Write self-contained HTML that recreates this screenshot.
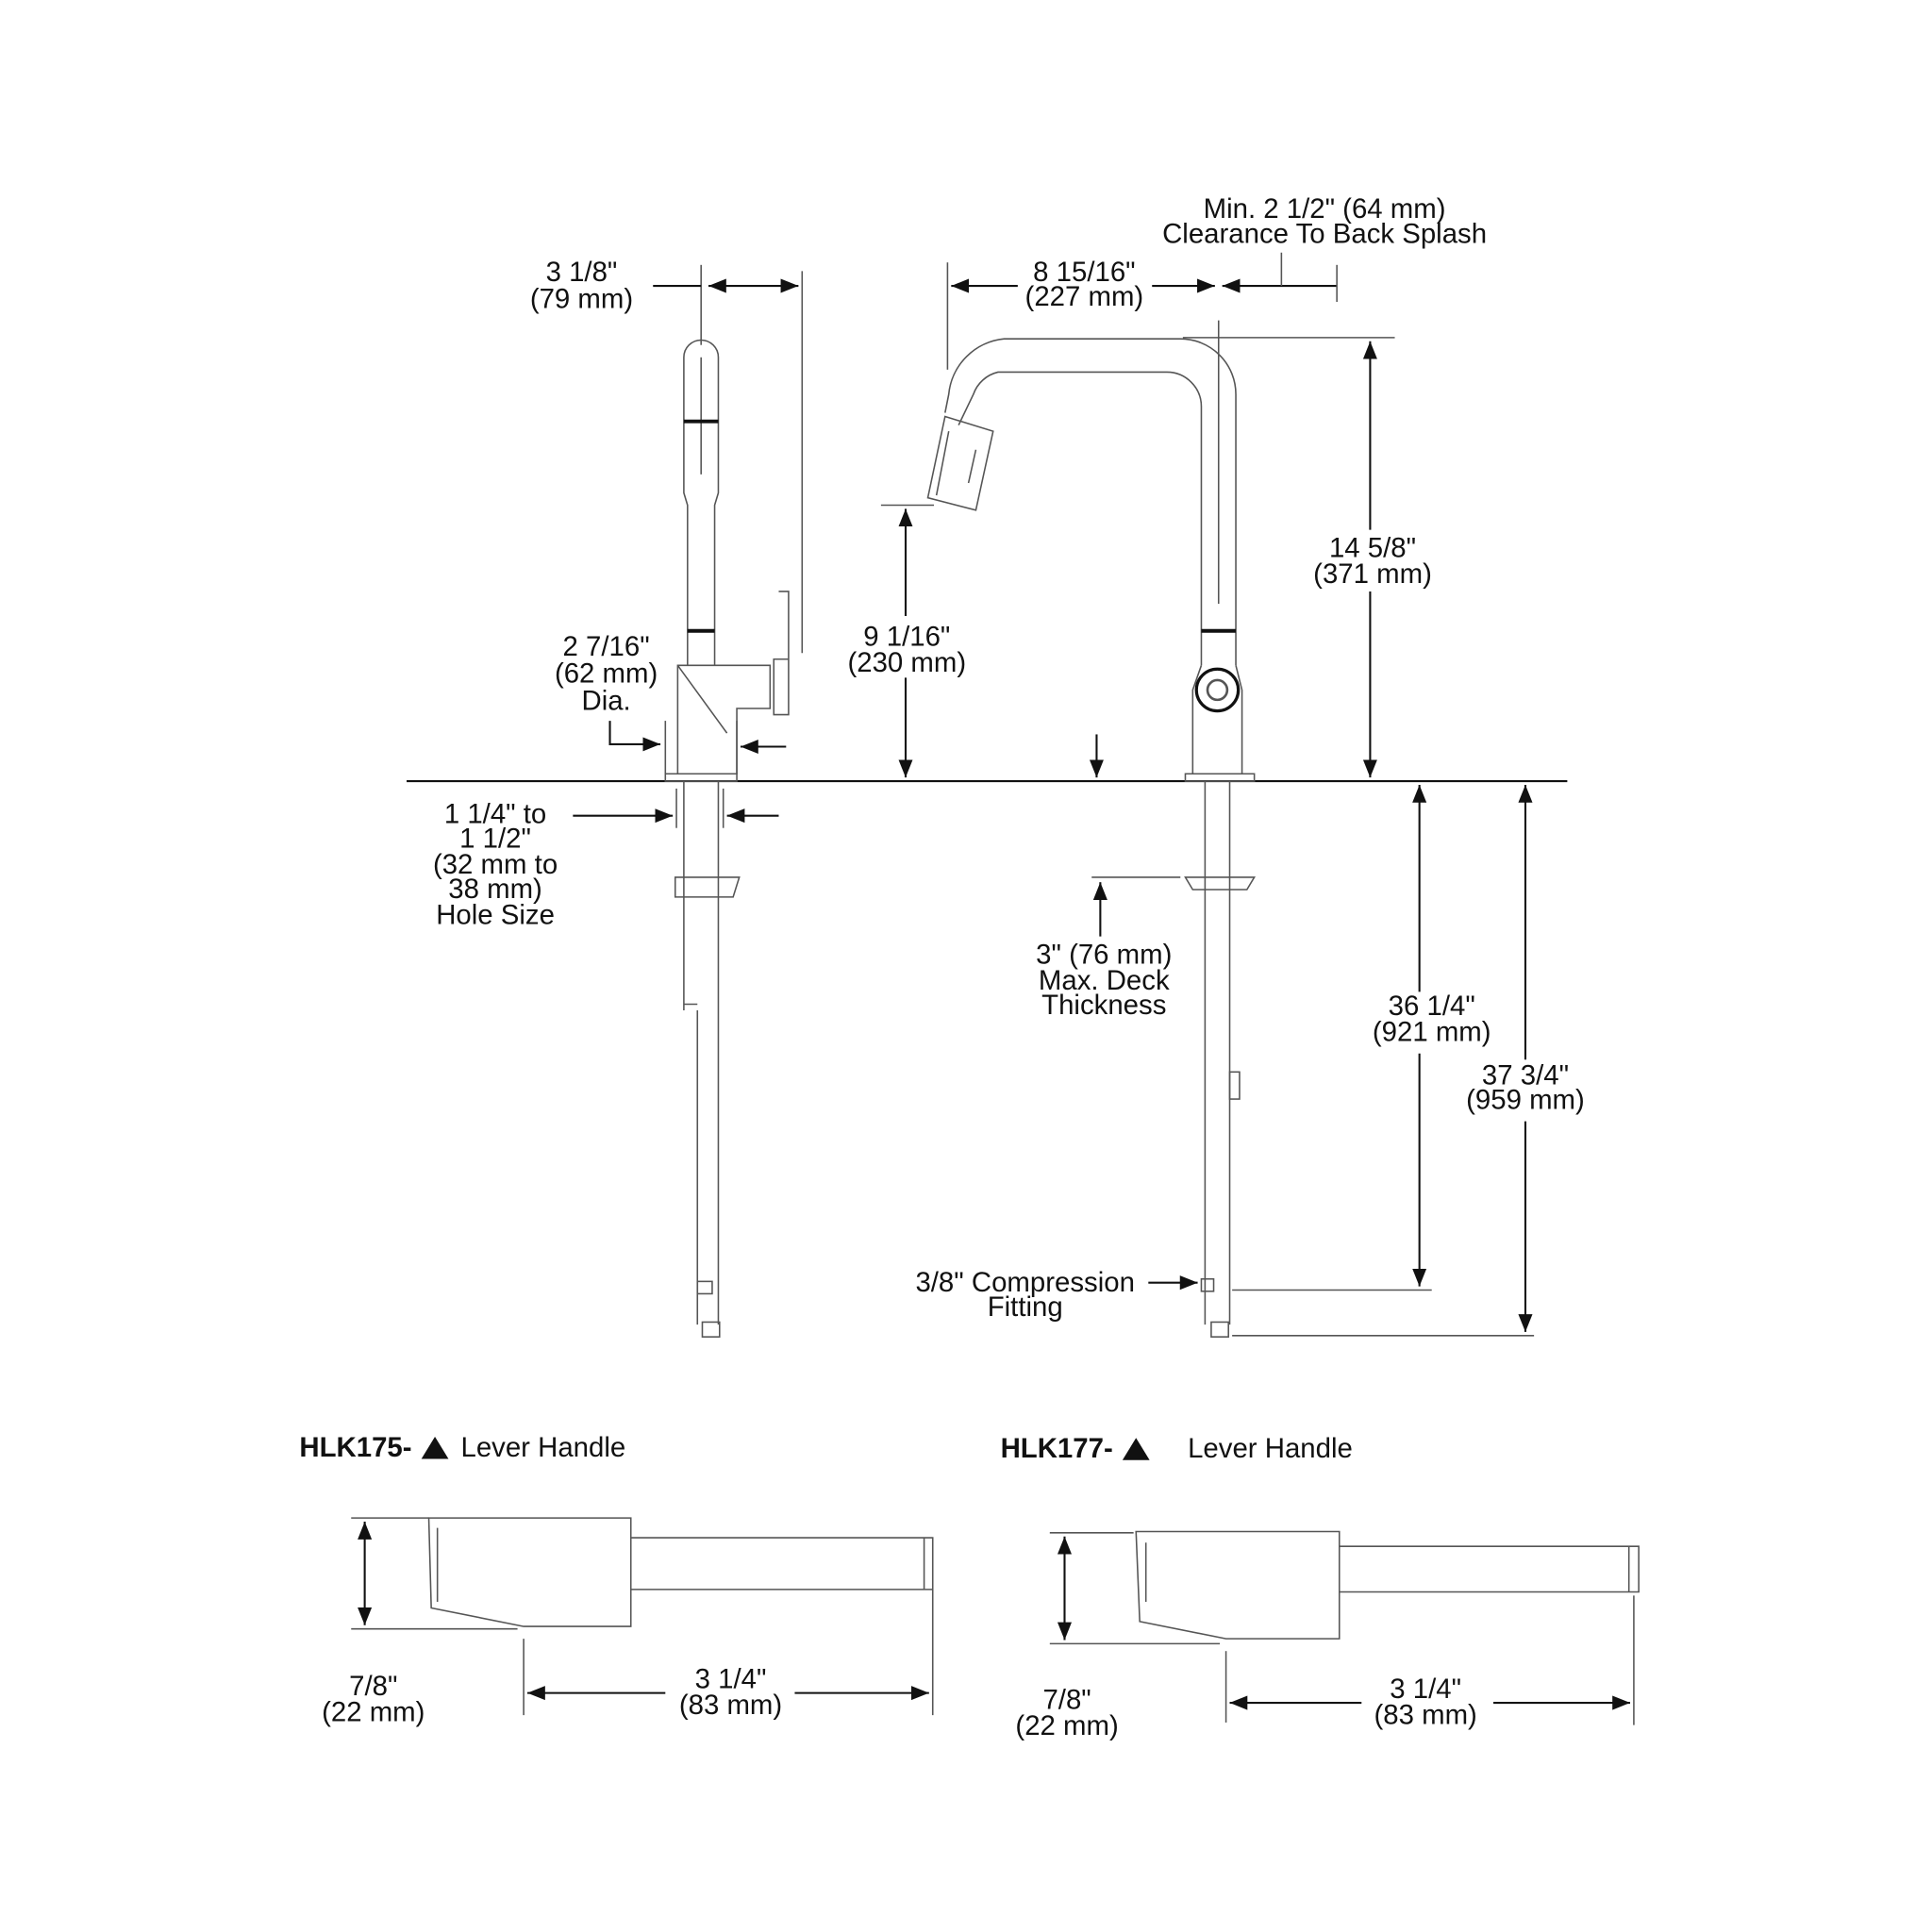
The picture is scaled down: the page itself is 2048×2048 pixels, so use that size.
<!DOCTYPE html>
<html><head><meta charset="utf-8"><style>
html,body{margin:0;padding:0;background:#fff;}
svg{display:block;}
text{font-family:"Liberation Sans",sans-serif;font-size:22.5px;fill:#111;text-anchor:middle;}
.l{stroke:#111;stroke-width:1.6;fill:none;}
.t{stroke:#555;stroke-width:1.2;fill:none;}
</style></head><body>
<svg width="2048" height="2048" viewBox="0 0 1568 1568" xmlns="http://www.w3.org/2000/svg">
<defs>
<marker id="a" viewBox="0 0 10 10" refX="10" refY="5" markerWidth="9" markerHeight="9" orient="auto-start-reverse"><path d="M0,1 L10,5 L0,9 z" fill="#111"/></marker>
</defs>
<line class="l" x1="330" y1="634" x2="1272" y2="634"/>

<!-- LEFT FAUCET -->
<path class="t" d="M555,290 A14,14 0 0 1 583,290 L583,400 L580,410 L580,540 M555,290 L555,400 L558,410 L558,540"/>
<line class="t" x1="569" y1="290" x2="569" y2="385"/>
<line x1="555" y1="342" x2="583" y2="342" stroke="#111" stroke-width="3"/>
<line x1="558" y1="512" x2="580" y2="512" stroke="#111" stroke-width="3"/>
<path class="t" d="M550,540 L625,540 L625,575 L598,575 L598,628 L550,628 Z M550,540 L590,595"/>
<path class="t" d="M628,535 L640,535 L640,580 L628,580 Z M632,480 L640,480 L640,535"/>
<path class="t" d="M540,628 L598,628 L598,634 L540,634 Z"/>
<path class="t" d="M555,634 L555,820 M583,634 L583,1075 M566,820 L566,1075 M548,712 L600,712 L595,728 L548,728 Z M555,728 L555,815 L566,815"/>
<rect class="t" x="566" y="1040" width="12" height="10"/>
<rect class="t" x="570" y="1073" width="14" height="12"/>
<line class="t" x1="569" y1="215" x2="569" y2="280"/>
<line class="t" x1="651" y1="220" x2="651" y2="530"/>
<line class="l" x1="530" y1="232" x2="569" y2="232"/>
<line class="l" x1="575" y1="232" x2="648" y2="232" marker-end="url(#a)" marker-start="url(#a)"/>
<text x="472" y="228">3 1/8"</text><text x="472" y="250">(79 mm)</text>
<text x="492" y="532">2 7/16"</text><text x="492" y="554">(62 mm)</text><text x="492" y="576">Dia.</text>
<path class="l" d="M495,585 L495,604 L536,604" marker-end="url(#a)"/>
<line class="t" x1="540" y1="585" x2="540" y2="628"/>
<line class="t" x1="598" y1="585" x2="598" y2="628"/>
<line class="l" x1="638" y1="606" x2="601" y2="606" marker-end="url(#a)"/>
<line class="l" x1="465" y1="662" x2="546" y2="662" marker-end="url(#a)"/>
<line class="l" x1="632" y1="662" x2="590" y2="662" marker-end="url(#a)"/>
<line class="t" x1="549" y1="640" x2="549" y2="672"/>
<line class="t" x1="587" y1="640" x2="587" y2="672"/>
<text x="402" y="668">1 1/4" to</text><text x="402" y="688">1 1/2"</text><text x="402" y="709">(32 mm to</text><text x="402" y="729">38 mm)</text><text x="402" y="750">Hole Size</text>

<!-- RIGHT FAUCET -->
<path class="t" d="M975,540 L975,330 A28,28 0 0 0 947,302 L810,302 A28,28 0 0 0 790,320 L778,345 M1003,540 L1003,320 A45,45 0 0 0 958,275 L815,275 A50,50 0 0 0 770,320 L767,335"/>
<line class="t" x1="989" y1="260" x2="989" y2="490"/>
<line x1="975" y1="512" x2="1003" y2="512" stroke="#111" stroke-width="3"/>
<path class="t" d="M767,338 L806,350 L792,414 L753,404 Z M770,350 L760,402 M792,365 L786,392"/>
<path class="t" d="M975,540 L968,560 L968,628 L1008,628 L1008,560 L1003,540"/>
<circle cx="988" cy="560" r="17" fill="none" stroke="#111" stroke-width="2.5"/>
<circle cx="988" cy="560" r="8" fill="none" stroke="#555" stroke-width="2"/>
<path class="t" d="M962,628 L1018,628 L1018,634 L962,634 Z"/>
<path class="t" d="M978,634 L978,1075 M998,634 L998,1075 M962,712 L1018,712 L1012,722 L968,722 Z"/>
<rect class="t" x="998" y="870" width="8" height="22"/>
<rect class="t" x="975" y="1038" width="10" height="10"/>
<rect class="t" x="983" y="1073" width="14" height="12"/>
<line class="t" x1="769" y1="213" x2="769" y2="300"/>
<line class="l" x1="772" y1="232" x2="826" y2="232" marker-start="url(#a)"/>
<line class="l" x1="935" y1="232" x2="986" y2="232" marker-end="url(#a)"/>
<line class="l" x1="992" y1="232" x2="1085" y2="232" marker-start="url(#a)"/>
<line class="t" x1="1085" y1="215" x2="1085" y2="245"/>
<line class="t" x1="1040" y1="205" x2="1040" y2="232"/>
<text x="880" y="228">8 15/16"</text><text x="880" y="248">(227 mm)</text>
<text x="1075" y="177">Min. 2 1/2" (64 mm)</text><text x="1075" y="197">Clearance To Back Splash</text>
<line class="t" x1="960" y1="274" x2="1132" y2="274"/>
<line class="l" x1="1112" y1="277" x2="1112" y2="430" marker-start="url(#a)"/>
<line class="l" x1="1112" y1="480" x2="1112" y2="631" marker-end="url(#a)"/>
<text x="1114" y="452">14 5/8"</text><text x="1114" y="473">(371 mm)</text>
<line class="t" x1="715" y1="410" x2="758" y2="410"/>
<line class="l" x1="735" y1="413" x2="735" y2="500" marker-start="url(#a)"/>
<line class="l" x1="735" y1="550" x2="735" y2="631" marker-end="url(#a)"/>
<text x="736" y="524">9 1/16"</text><text x="736" y="545">(230 mm)</text>
<line class="l" x1="890" y1="596" x2="890" y2="631" marker-end="url(#a)"/>
<line class="t" x1="886" y1="712" x2="958" y2="712"/>
<line class="l" x1="893" y1="760" x2="893" y2="716" marker-end="url(#a)"/>
<text x="896" y="782">3" (76 mm)</text><text x="896" y="803">Max. Deck</text><text x="896" y="823">Thickness</text>
<line class="t" x1="1000" y1="1047" x2="1162" y2="1047"/>
<line class="t" x1="1000" y1="1084" x2="1245" y2="1084"/>
<line class="l" x1="1152" y1="637" x2="1152" y2="805" marker-start="url(#a)"/>
<line class="l" x1="1152" y1="855" x2="1152" y2="1044" marker-end="url(#a)"/>
<text x="1162" y="824">36 1/4"</text><text x="1162" y="845">(921 mm)</text>
<line class="l" x1="1238" y1="637" x2="1238" y2="860" marker-start="url(#a)"/>
<line class="l" x1="1238" y1="910" x2="1238" y2="1081" marker-end="url(#a)"/>
<text x="1238" y="880">37 3/4"</text><text x="1238" y="900">(959 mm)</text>
<text x="832" y="1048">3/8" Compression</text><text x="832" y="1068">Fitting</text>
<line class="l" x1="932" y1="1041" x2="972" y2="1041" marker-end="url(#a)"/>

<!-- HANDLES -->
<text x="243" y="1182" style="text-anchor:start;font-weight:bold">HLK175-</text>
<path d="M342,1184 L353,1166 L364,1184 Z" fill="#111"/>
<text x="374" y="1182" style="text-anchor:start">Lever Handle</text>
<text x="812" y="1183" style="text-anchor:start;font-weight:bold">HLK177-</text>
<path d="M911,1185 L922,1167 L933,1185 Z" fill="#111"/>
<text x="964" y="1183" style="text-anchor:start">Lever Handle</text>

<path class="t" d="M348,1232 L512,1232 L512,1320 L425,1320 L350,1305 Z M355,1240 L355,1300 M512,1248 L757,1248 L757,1290 L512,1290 M750,1248 L750,1290"/>
<line class="t" x1="285" y1="1232" x2="348" y2="1232"/>
<line class="t" x1="285" y1="1322" x2="420" y2="1322"/>
<line class="l" x1="296" y1="1235" x2="296" y2="1319" marker-start="url(#a)" marker-end="url(#a)"/>
<text x="303" y="1376">7/8"</text><text x="303" y="1397">(22 mm)</text>
<line class="t" x1="425" y1="1330" x2="425" y2="1392"/>
<line class="t" x1="757" y1="1290" x2="757" y2="1392"/>
<line class="l" x1="428" y1="1374" x2="540" y2="1374" marker-start="url(#a)"/>
<line class="l" x1="645" y1="1374" x2="754" y2="1374" marker-end="url(#a)"/>
<text x="593" y="1370">3 1/4"</text><text x="593" y="1391">(83 mm)</text>

<path class="t" d="M922,1243 L1087,1243 L1087,1330 L995,1330 L925,1316 Z M930,1252 L930,1300 M1087,1255 L1330,1255 L1330,1292 L1087,1292 M1322,1255 L1322,1292"/>
<line class="t" x1="852" y1="1244" x2="920" y2="1244"/>
<line class="t" x1="852" y1="1334" x2="990" y2="1334"/>
<line class="l" x1="864" y1="1247" x2="864" y2="1331" marker-start="url(#a)" marker-end="url(#a)"/>
<text x="866" y="1387">7/8"</text><text x="866" y="1408">(22 mm)</text>
<line class="t" x1="995" y1="1340" x2="995" y2="1398"/>
<line class="t" x1="1326" y1="1295" x2="1326" y2="1400"/>
<line class="l" x1="998" y1="1382" x2="1105" y2="1382" marker-start="url(#a)"/>
<line class="l" x1="1212" y1="1382" x2="1323" y2="1382" marker-end="url(#a)"/>
<text x="1157" y="1378">3 1/4"</text><text x="1157" y="1399">(83 mm)</text>
</svg>
</body></html>
